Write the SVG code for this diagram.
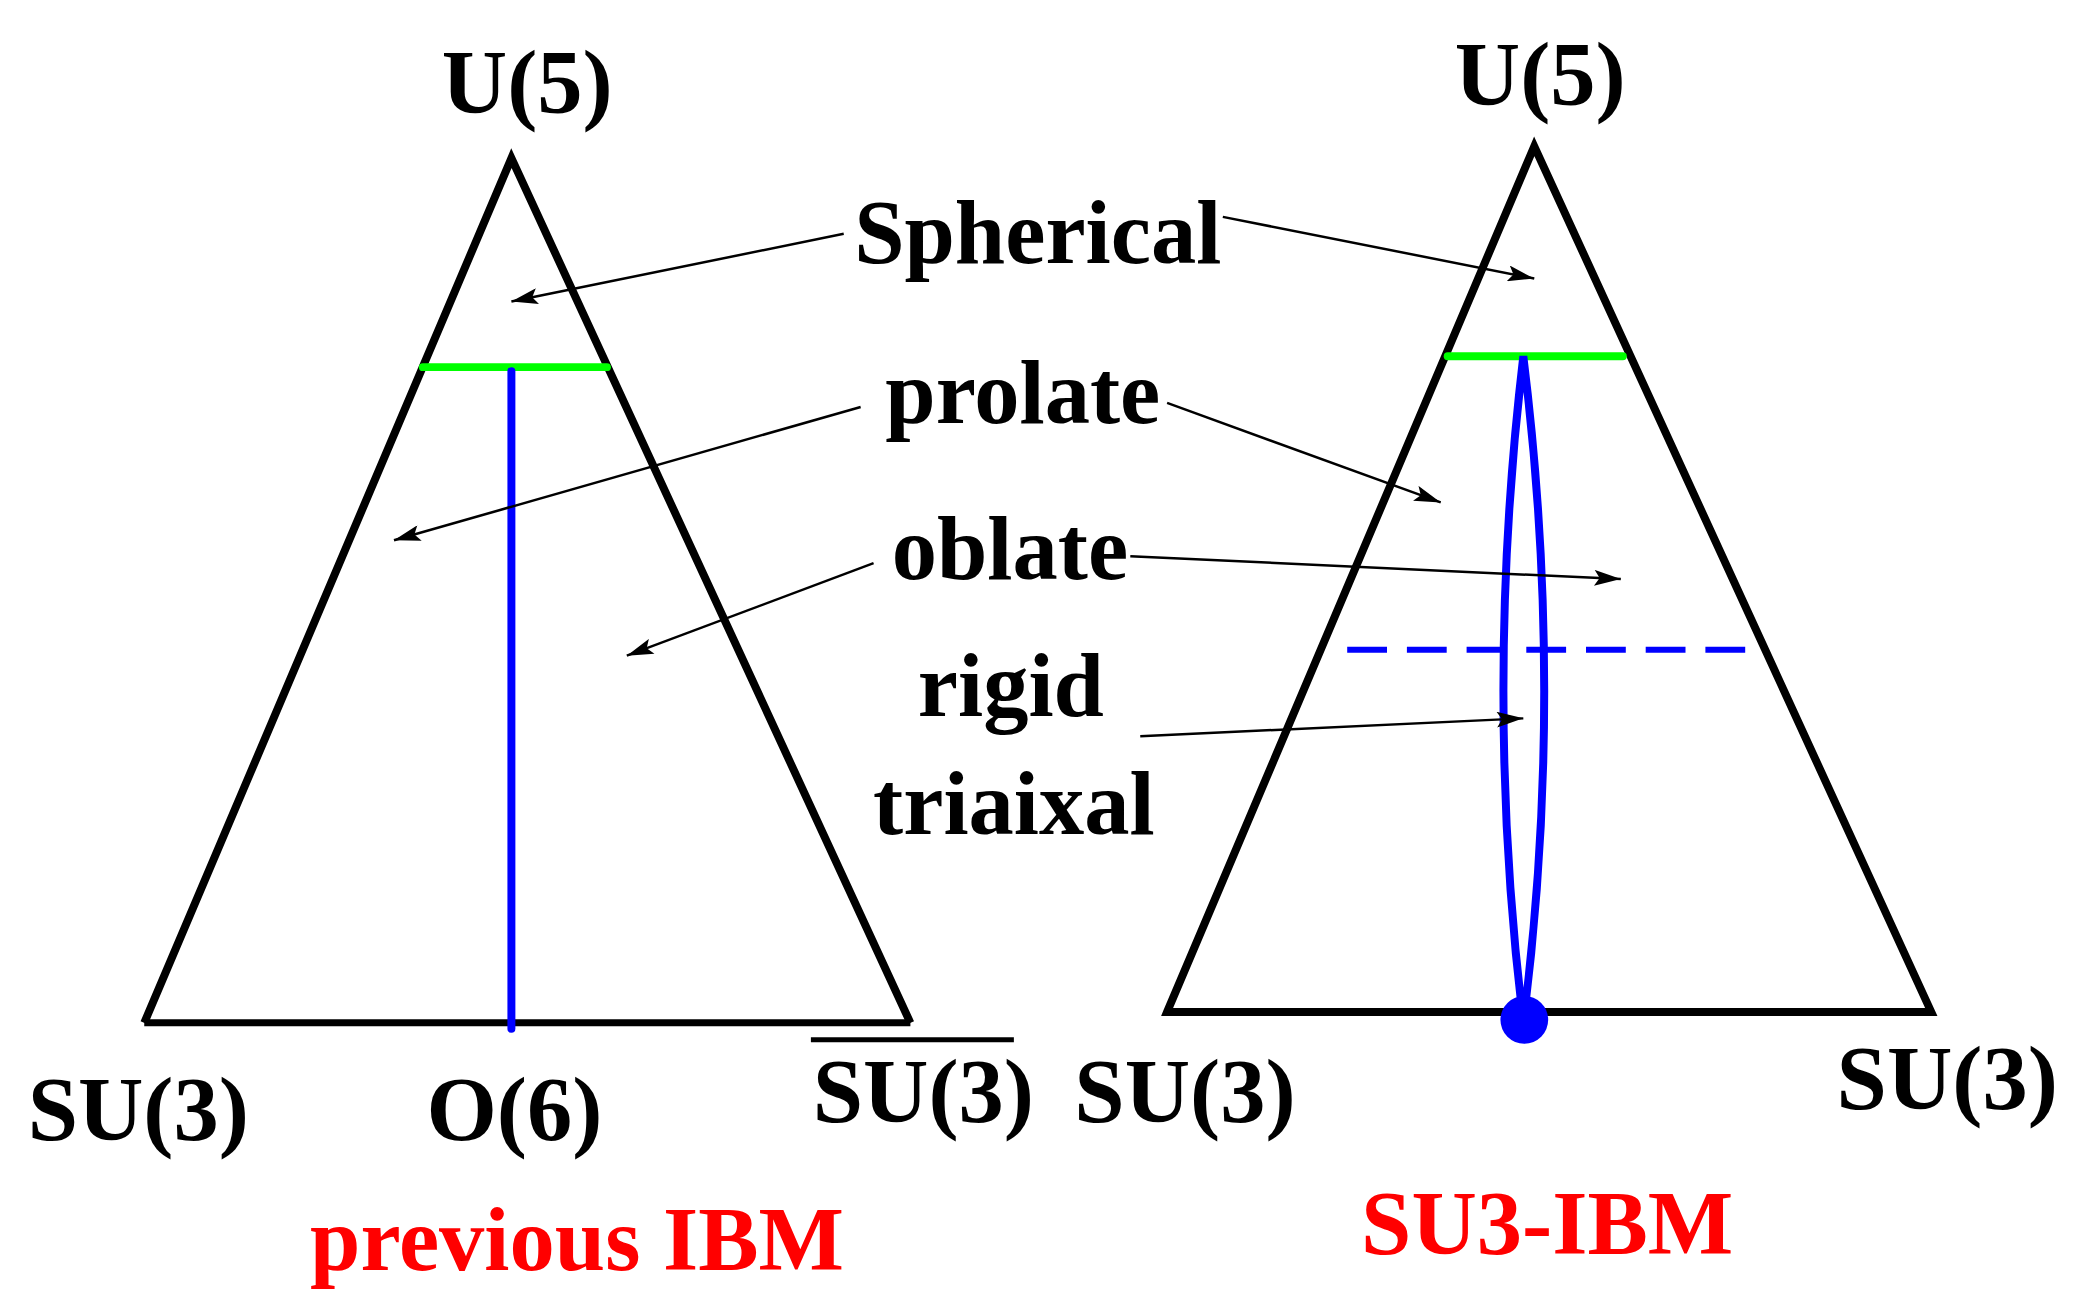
<svg xmlns="http://www.w3.org/2000/svg" width="2084" height="1313" viewBox="0 0 2084 1313">
<defs>
<style>
.t{font-family:"Liberation Serif",serif;font-weight:bold;font-size:91px;text-anchor:middle;fill:#000}
.r{fill:#ff0000}
.tri{fill:none;stroke:#000;stroke-width:8;stroke-linejoin:miter}
.ar{stroke:#000;stroke-width:2.5;fill:none;marker-end:url(#ah)}
</style>
<marker id="ah" viewBox="0 0 10 6" refX="10" refY="3" markerWidth="30" markerHeight="16" markerUnits="userSpaceOnUse" orient="auto"><path d="M0,0 L10,3 L0,6 L2,3 Z" fill="#000"/></marker>
</defs>
<rect width="2084" height="1313" fill="#fff"/>
<g transform="translate(-6,-4) scale(0.995)">
<g id="left-triangle">
<polyline class="tri" points="151,1032 520,163 921,1032"/>
<line x1="151" y1="1032" x2="921" y2="1032" stroke="#000" stroke-width="7"/>
<line x1="431" y1="373" x2="616" y2="373" stroke="#00ff00" stroke-width="8" stroke-linecap="round"/>
<line x1="520" y1="377" x2="520" y2="1038" stroke="#0000ff" stroke-width="8" stroke-linecap="round"/>
<line x1="821" y1="1049" x2="1025" y2="1049" stroke="#000" stroke-width="5"/>
</g>
<g id="right-triangle">
<polygon class="tri" points="1179,1021 1548,151 1947,1021"/>
<line x1="1461" y1="362" x2="1637" y2="362" stroke="#00ff00" stroke-width="8" stroke-linecap="round"/>
<path d="M1537,362 Q1497,700 1537,1032 Q1579,700 1537,362 Z" fill="none" stroke="#0000ff" stroke-width="8"/>
<circle cx="1538" cy="1029" r="24" fill="#0000ff"/>
<line x1="1360" y1="657" x2="1780" y2="657" stroke="#0000ff" stroke-width="6" stroke-dasharray="40,20"/>
</g>
<g id="labels">
<text class="t" x="536" y="118">U(5)</text>
<text class="t" x="145" y="1150">SU(3)</text>
<text class="t" x="523" y="1150">O(6)</text>
<text class="t" x="934" y="1132">SU(3)</text>
<text class="t r" x="586" y="1280">previous IBM</text>
<text class="t" x="1554" y="110">U(5)</text>
<text class="t" x="1197" y="1132">SU(3)</text>
<text class="t" x="1963" y="1119">SU(3)</text>
<text class="t r" x="1561" y="1264">SU3-IBM</text>
<text class="t" x="1049" y="268">Spherical</text>
<text class="t" x="1034" y="429">prolate</text>
<text class="t" x="1021" y="586">oblate</text>
<text class="t" x="1022" y="724">rigid</text>
<text class="t" x="1025" y="842">triaixal</text>
</g>
<g id="connectors">
<line class="ar" x1="854" y1="239" x2="520" y2="307"/>
<line class="ar" x1="1235" y1="222" x2="1548" y2="284"/>
<line class="ar" x1="871" y1="413" x2="402" y2="547"/>
<line class="ar" x1="1179" y1="409" x2="1454" y2="509"/>
<line class="ar" x1="884" y1="570" x2="636" y2="663"/>
<line class="ar" x1="1142" y1="563" x2="1635" y2="586"/>
<line class="ar" x1="1152" y1="744" x2="1537" y2="726"/>
</g>
</g>
</svg>
